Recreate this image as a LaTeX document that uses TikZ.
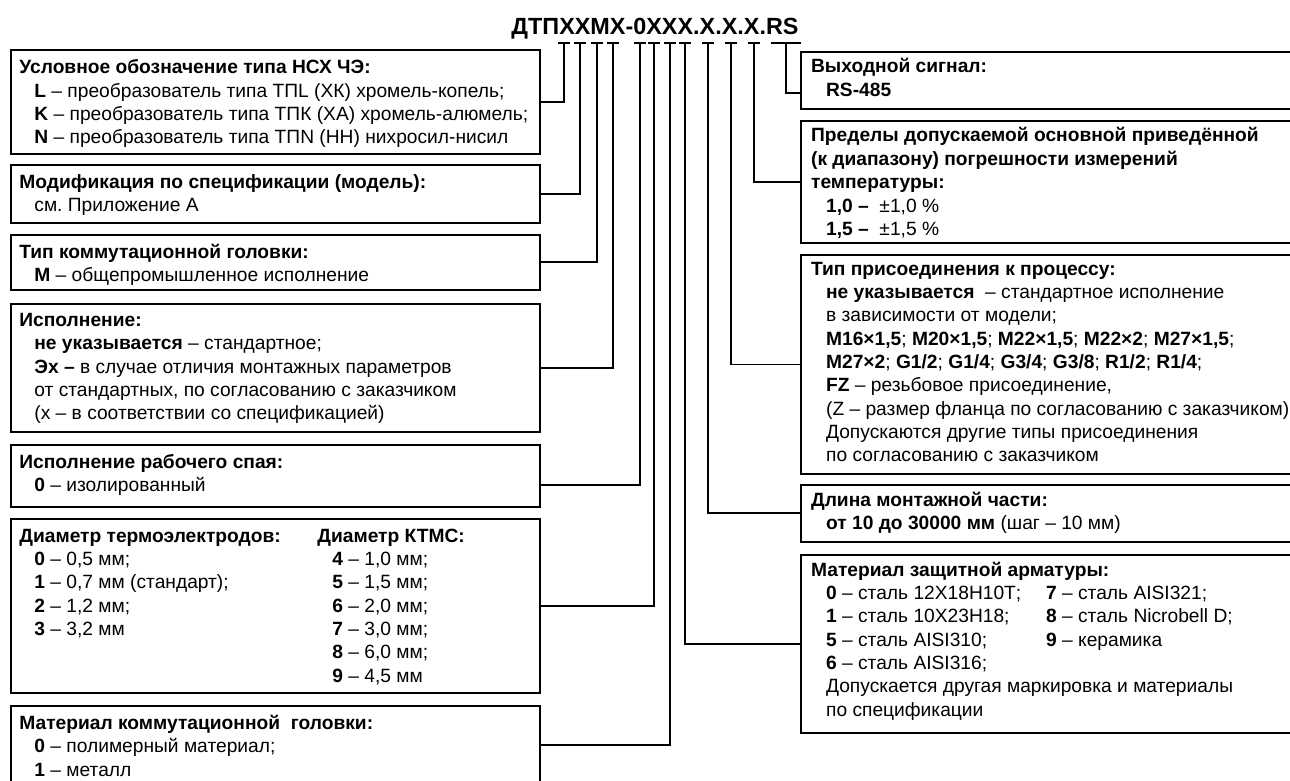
\documentclass[tikz,border=0pt]{standalone}
\usepackage{fontspec}
\setmainfont{Liberation Sans}
\frenchspacing
\usetikzlibrary{positioning,fit}

\tikzset{
  box/.style={draw, line width=1pt, inner sep=0pt},
  txt/.style={anchor=north west, inner sep=0pt, align=left,
    font=\fontsize{9.6}{11.67}\selectfont},
  conn/.style={line width=0.9pt},
}
\newcommand{\ind}{\hspace*{7.5pt}}

\begin{document}
\begin{tikzpicture}[x=0.5pt,y=-0.5pt]
  \useasboundingbox (0,0) rectangle (1290,781);
  % designation
  \node[anchor=base, inner sep=0pt, font=\fontsize{11.7}{14}\selectfont\bfseries] (code) at (655,35) {ДТПХХМХ-0ХХХ.Х.Х.Х.RS};
  \foreach \n/\x in {1/564,2/580,3/597,4/613,5/640,6/654,7/670,8/685,9/708,10/731,11/754}{
    \coordinate (k\n) at (\x,43);
    \draw[conn] ([xshift=-3pt]k\n) -- ([xshift=3pt]k\n);
  }
  \coordinate (k12) at (786,43);
  \draw[conn] ([xshift=-7.5pt]k12) -- ([xshift=7.5pt]k12);

  % left boxes
  \node[box, fit={(11,50) (540,153.5)}] (b1) {};
  \node[box, fit={(11,165) (540,222.7)}] (b2) {};
  \node[box, fit={(11,234.5) (540,290)}] (b3) {};
  \node[box, fit={(11,304) (540,431.7)}] (b4) {};
  \node[box, fit={(11,445) (540,506.7)}] (b5) {};
  \node[box, fit={(11,519.3) (540,693.3)}] (b6) {};
  \node[box, fit={(11,705.7) (540,784)}] (b7) {};
  % right boxes
  \node[box, fit={(800.7,51.7) (1293,109.3)}] (r1) {};
  \node[box, fit={(800.7,120.7) (1293,243.3)}] (r2) {};
  \node[box, fit={(800.7,255) (1293,474)}] (r3) {};
  \node[box, fit={(800.7,485) (1293,541.7)}] (r4) {};
  \node[box, fit={(800.7,555) (1293,732.7)}] (r5) {};

  \node[txt, below right=5.2pt and 4.5pt of b1.north west] (t1) {\textbf{Условное обозначение типа НСХ ЧЭ:}\\
    \ind\textbf{L} – преобразователь типа ТПL (ХК) хромель-копель;\\
    \ind\textbf{K} – преобразователь типа ТПК (ХА) хромель-алюмель;\\
    \ind\textbf{N} – преобразователь типа ТПN (НН) нихросил-нисил};
  \node[txt, below right=5pt and 4.5pt of b2.north west] (t2) {\textbf{Модификация по спецификации (модель):}\\
    \ind см. Приложение А};
  \node[txt, below right=5pt and 4.5pt of b3.north west] (t3) {\textbf{Тип коммутационной головки:}\\
    \ind\textbf{M} – общепромышленное исполнение};
  \node[txt, below right=5pt and 4.5pt of b4.north west] (t4) {\textbf{Исполнение:}\\
    \ind\textbf{не указывается} – стандартное;\\
    \ind\textbf{Эх –} в случае отличия монтажных параметров\\
    \ind от стандартных, по согласованию с заказчиком\\
    \ind(х – в соответствии со спецификацией)};
  \node[txt, below right=5pt and 4.5pt of b5.north west] (t5) {\textbf{Исполнение рабочего спая:}\\
    \ind\textbf{0} – изолированный};
  \node[txt, below right=5pt and 4.5pt of b6.north west] (t6) {\makebox[149pt][l]{\textbf{Диаметр термоэлектродов:}}\textbf{Диаметр КТМС:}\\
    \ind\makebox[149pt][l]{\textbf{0} – 0,5 мм;}\textbf{4} – 1,0 мм;\\
    \ind\makebox[149pt][l]{\textbf{1} – 0,7 мм (стандарт);}\textbf{5} – 1,5 мм;\\
    \ind\makebox[149pt][l]{\textbf{2} – 1,2 мм;}\textbf{6} – 2,0 мм;\\
    \ind\makebox[149pt][l]{\textbf{3} – 3,2 мм}\textbf{7} – 3,0 мм;\\
    \ind\makebox[149pt][l]{}\textbf{8} – 6,0 мм;\\
    \ind\makebox[149pt][l]{}\textbf{9} – 4,5 мм};
  \node[txt, below right=5pt and 4.5pt of b7.north west] (t7) {\textbf{Материал коммутационной\ \ головки:}\\
    \ind\textbf{0} – полимерный материал;\\
    \ind\textbf{1} – металл};

  \node[txt, below right=3.8pt and 5.5pt of r1.north west] (s1) {\textbf{Выходной сигнал:}\\
    \ind\textbf{RS-485}};
  \node[txt, below right=3.8pt and 5.5pt of r2.north west] (s2) {\textbf{Пределы допускаемой основной приведённой}\\
    \textbf{(к диапазону) погрешности измерений}\\
    \textbf{температуры:}\\
    \ind\textbf{1,0 –}\ \ ±1,0 \%\\
    \ind\textbf{1,5 –}\ \ ±1,5 \%};
  \node[txt, below right=3.8pt and 5.5pt of r3.north west] (s3) {\textbf{Тип присоединения к процессу:}\\
    \ind\textbf{не указывается}\ \ – стандартное исполнение\\
    \ind в зависимости от модели;\\
    \ind\textbf{M16×1,5}; \textbf{M20×1,5}; \textbf{M22×1,5}; \textbf{M22×2}; \textbf{M27×1,5};\\
    \ind\textbf{M27×2}; \textbf{G1/2}; \textbf{G1/4}; \textbf{G3/4}; \textbf{G3/8}; \textbf{R1/2}; \textbf{R1/4};\\
    \ind\textbf{FZ} – резьбовое присоединение,\\
    \ind(Z – размер фланца по согласованию с заказчиком)\\
    \ind Допускаются другие типы присоединения\\
    \ind по согласованию с заказчиком};
  \node[txt, below right=3.8pt and 5.5pt of r4.north west] (s4) {\textbf{Длина монтажной части:}\\
    \ind\textbf{от 10 до 30000 мм} (шаг – 10 мм)};
  \node[txt, below right=3.8pt and 5.5pt of r5.north west] (s5) {\textbf{Материал защитной арматуры:}\\
    \ind\makebox[110pt][l]{\textbf{0} – сталь 12Х18Н10Т;}\textbf{7} – сталь AISI321;\\
    \ind\makebox[110pt][l]{\textbf{1} – сталь 10Х23Н18;}\textbf{8} – сталь Nicrobell D;\\
    \ind\makebox[110pt][l]{\textbf{5} – сталь AISI310;}\textbf{9} – керамика\\
    \ind\textbf{6} – сталь AISI316;\\
    \ind Допускается другая маркировка и материалы\\
    \ind по спецификации};

  % connectors
  \draw[conn] (k1) |- (b1.east);
  \draw[conn] (k2) |- (b2.east);
  \draw[conn] (k3) |- (b3.east);
  \draw[conn] (k4) |- (b4.east);
  \draw[conn] (k5) |- ([yshift=-4.6pt]b5.east);
  \draw[conn] (k6) |- (b6.east);
  \draw[conn] (k7) |- (b7.east);
  \draw[conn] (k8) |- (r5.west);
  \draw[conn] (k9) |- (r4.west);
  \draw[conn] (k10) |- (r3.west);
  \draw[conn] (k11) |- (r2.west);
  \draw[conn] (k12) |- ([yshift=-6.4pt]r1.west);
\end{tikzpicture}
\end{document}
